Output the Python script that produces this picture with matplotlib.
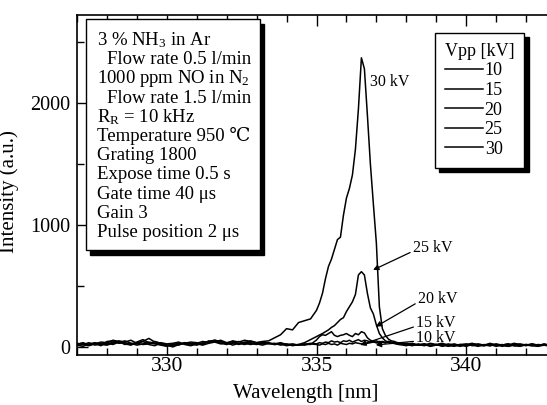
import matplotlib
matplotlib.use("Agg")
import matplotlib.pyplot as plt
from matplotlib.patches import Rectangle
from matplotlib.ticker import MultipleLocator
import numpy as np

plt.rcParams['font.family'] = ['Liberation Serif', 'DejaVu Serif']
plt.rcParams['mathtext.fontset'] = 'custom'
plt.rcParams['mathtext.rm'] = 'Liberation Serif'
plt.rcParams['mathtext.it'] = 'Liberation Serif:italic'

# wavelength grid [nm]: coarse on the baseline, finer around the peak
wl = np.concatenate([np.linspace(327.0, 334.8, 40),
                     np.linspace(335.0, 337.9, 30),
                     np.linspace(338.0, 343.0, 26)])

# intensity (a.u.) for each Vpp
I_10 = [25, 30, 20, 28, 10, 45, 50, 30, 35, 20, 40, 60, 35, 25, 15, 5, 20, 30, 25, 15,
        30, 45, 35, 50, 30, 20, 35, 25, 40, 30, 20, 35, 25, 30, 15, 25, 10, 20, 15, 25] + \
       [20, 15, 25, 20, 30, 20, 25, 15, 30, 25, 20, 30, 25, 35, 30, 25, 20, 30, 35, 40,
        35, 45, 40, 35, 45, 40, 35, 30, 35, 25] + \
       [30, 20, 15, 25, 10, 20, 5, 15, 25, 10, 20, 15, 5, 20, 10, 25, 15, 5, 20, 10,
        15, 25, 10, 20, 15, 10]
I_15 = [10, 20, 35, 15, 25, 30, 55, 45, 20, 30, 15, 25, 40, 30, 20, 10, 25, 15, 35, 30,
        20, 25, 50, 40, 25, 35, 15, 30, 20, 35, 25, 15, 30, 20, 30, 20, 25, 15, 20, 30] + \
       [25, 35, 30, 40, 35, 50, 40, 45, 35, 50, 45, 55, 40, 50, 60, 45, 55, 50, 40, 45,
        50, 40, 45, 35, 40, 30, 35, 25, 30, 20] + \
       [25, 15, 20, 10, 25, 15, 20, 5, 15, 20, 10, 25, 15, 10, 20, 5, 15, 25, 10, 15,
        20, 10, 5, 15, 20, 10]
I_20 = [15, 5, 25, 35, 20, 15, 30, 50, 40, 55, 30, 20, 25, 45, 30, 15, 0, 20, 35, 25,
        15, 35, 40, 55, 45, 25, 30, 45, 30, 20, 30, 25, 35, 20, 25, 10, 20, 15, 25, 20] + \
       [57, 85, 100, 95, 110, 125, 95, 85, 95, 100, 110, 95, 85, 110, 100, 125, 115, 75, 55, 45,
        35, 30, 40, 35, 45, 35, 30, 35, 25, 20] + \
       [20, 30, 15, 25, 10, 20, 30, 15, 5, 20, 25, 10, 20, 15, 30, 10, 20, 5, 15, 25,
        15, 10, 20, 15, 5, 20]
I_25 = [30, 20, 10, 25, 40, 35, 20, 40, 25, 15, 35, 45, 20, 10, 35, 25, 30, 40, 20, 10,
        25, 15, 30, 40, 55, 35, 45, 20, 35, 50, 35, 40, 30, 25, 35, 20, 15, 20, 35, 60] + \
       [85, 98, 110, 125, 140, 160, 175, 200, 225, 240, 290, 330, 370, 430, 590, 617, 590, 440, 320, 270,
        180, 110, 75, 50, 40, 32, 28, 22, 18, 15] + \
       [10, 25, 15, 20, 5, 15, 25, 10, 20, 15, 5, 20, 25, 15, 10, 20, 15, 25, 10, 5,
        20, 15, 10, 25, 15, 20]
I_30 = [20, 35, 15, 30, 25, 20, 40, 35, 50, 30, 25, 45, 70, 40, 30, 15, 10, 25, 30, 40,
        35, 20, 45, 55, 40, 30, 50, 40, 55, 45, 35, 45, 50, 75, 100, 150, 140, 200, 215, 230] + \
       [300, 360, 440, 560, 660, 720, 800, 880, 900, 1080, 1220, 1300, 1410, 1620, 1950, 2370, 2280, 1900, 1500, 1170,
        850, 330, 150, 95, 65, 50, 45, 35, 30, 25] + \
       [20, 10, 25, 15, 30, 20, 10, 25, 15, 5, 20, 30, 15, 10, 25, 20, 5, 15, 30, 20,
        10, 25, 15, 20, 10, 15]

vpp = ['10', '15', '20', '25', '30']
series = [I_10, I_15, I_20, I_25, I_30]

# label text, label position, arrow tip (data units)
ann_text = ['30 kV', '25 kV', '20 kV', '15 kV', '10 kV']
ann_xy = [None, (336.89, 631), (336.98, 166), (336.46, 16), (336.98, 16)]
ann_pos = [(336.78, 2172), (338.22, 811), (338.39, 393), (338.33, 197), (338.33, 74)]

conditions = [r'3 % $\mathrm{NH_3}$ in Ar',
              '  Flow rate 0.5 l/min',
              r'1000 ppm NO in $\mathrm{N_2}$',
              '  Flow rate 1.5 l/min',
              r'$\mathrm{R_R}$ = 10 kHz',
              'Temperature 950 ℃',
              'Grating 1800',
              'Expose time 0.5 s',
              'Gate time 40 μs',
              'Gain 3',
              'Pulse position 2 μs']

W, H = 547, 405
fig = plt.figure(figsize=(W / 100, H / 100), dpi=100)
ax = fig.add_axes([77 / W, 1 - 355 / H, (556 - 77) / W, (355 - 15) / H])

lines = []
for lab, y in zip(vpp, series):
    ln, = ax.plot(wl, y, color='black', lw=1.1, label=lab)
    lines.append(ln)

ax.set_xlim(327, 343)
ax.set_ylim(-66, 2721)
ax.xaxis.set_major_locator(MultipleLocator(5))
ax.xaxis.set_minor_locator(MultipleLocator(1))
ax.yaxis.set_major_locator(MultipleLocator(1000))
ax.yaxis.set_minor_locator(MultipleLocator(500))
ax.tick_params(which='both', direction='in', top=True, right=False, width=1.0)
ax.tick_params(which='major', length=8)
ax.tick_params(which='minor', length=5)
ax.tick_params(axis='x', labelsize=15.5, pad=1.5)
ax.tick_params(axis='y', labelsize=14.5, pad=5)
for s in ax.spines.values():
    s.set_linewidth(1.2)

ax.set_xlabel('Wavelength [nm]', fontsize=15)
ax.xaxis.set_label_coords((306 - 77) / (556 - 77), -0.085)
ax.set_ylabel('Intensity (a.u.)', fontsize=15)
ax.yaxis.set_label_coords(-0.122, 0.48)

for t, xy, pos in zip(ann_text, ann_xy, ann_pos):
    if xy is None:
        ax.text(pos[0], pos[1], t, fontsize=11.5, ha='left', va='center')
    else:
        ax.annotate(t, xy=xy, xytext=pos, fontsize=11.5, ha='left', va='center',
                    arrowprops=dict(arrowstyle='-|>', color='black', lw=0.9,
                                    mutation_scale=8, shrinkA=0, shrinkB=0,
                                    relpos=(0, 0.3)))

# condition box with drop shadow
def fx(x):
    return x / W

def fy(y):
    return 1 - y / H

x0, y0, x1, y1 = 86, 19, 260, 250
fig.patches.append(Rectangle((fx(x0 + 4), fy(y1 + 5)), fx(x1 - x0), (y1 - y0) / H,
                             transform=fig.transFigure, facecolor='black',
                             edgecolor='black', zorder=5))
fig.patches.append(Rectangle((fx(x0), fy(y1)), fx(x1 - x0), (y1 - y0) / H,
                             transform=fig.transFigure, facecolor='white',
                             edgecolor='black', lw=1.0, zorder=6))
for k, line in enumerate(conditions):
    indent = line.startswith('  ')
    fig.text(fx(107 if indent else 97), fy(45 + 19.2 * k), line.strip(),
             fontsize=13.5, ha='left', va='baseline', zorder=7)

leg = ax.legend(lines, vpp, title='Vpp [kV]', loc='upper left',
                bbox_to_anchor=(fx(435), fy(33)), bbox_transform=fig.transFigure,
                borderaxespad=0, fancybox=False, edgecolor='black', framealpha=1,
                fontsize=13, title_fontsize=13, handlelength=2.1, handletextpad=0.1,
                labelspacing=0.14, borderpad=0.55, alignment='left',
                shadow={'ox': 3, 'oy': -3, 'color': 'black', 'alpha': 1})
leg.get_frame().set_linewidth(1.0)

fig.savefig('out.png', dpi=100)
